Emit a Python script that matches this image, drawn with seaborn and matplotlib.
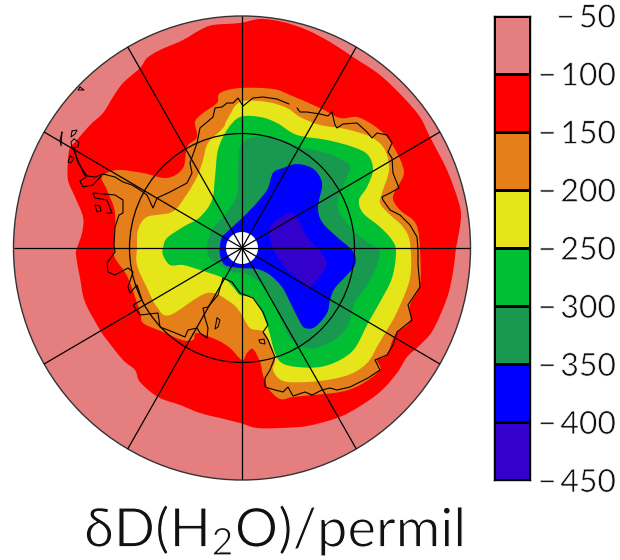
import numpy as np
import matplotlib
matplotlib.use("Agg")
import matplotlib.pyplot as plt
import matplotlib.patheffects as pe
from matplotlib.colors import ListedColormap
from matplotlib.patches import Ellipse, PathPatch
from matplotlib.path import Path
import seaborn as sns

# colour bar
levels = [-50, -100, -150, -200, -250, -300, -350, -400, -450]
level_labels = ["\u2212\u200950", "\u2212\u2009100", "\u2212\u2009150", "\u2212\u2009200", "\u2212\u2009250", "\u2212\u2009300", "\u2212\u2009350", "\u2212\u2009400", "\u2212\u2009450"]
band_mid = [-75, -125, -175, -225, -275, -325, -375, -425]
band_colors = ["#e57f7f", "#ff0000", "#e57f1a", "#e5e519", "#00bf33", "#199950", "#0000ff", "#3300cc"]

# contour traces (grid units, pole at 242,248)
red_x = [240, 260, 283, 307, 330, 353, 380, 403, 420, 430, 447, 458, 461, 457, 456, 453, 447, 433, 420, 407, 397, 380, 357, 337, 307, 280, 257, 240, 220, 200, 180, 158, 140, 135, 123, 107, 100, 85, 80, 76, 77, 82, 83, 75, 68, 68, 70, 77, 90, 103, 113, 123, 140, 147, 160, 183, 200, 213]
red_y = [23, 19, 22, 30, 42, 57, 75, 97, 117, 137, 170, 200, 217, 243, 248, 272, 298, 330, 345, 357, 373, 392, 408, 418, 426, 428, 428, 423, 418, 413, 405, 397, 382, 370, 360, 340, 330, 302, 278, 255, 248, 233, 217, 197, 180, 160, 148, 140, 125, 113, 97, 83, 68, 58, 50, 40, 30, 25]
orange_x = [240, 273, 290, 320, 340, 357, 373, 387, 397, 403, 403, 393, 400, 413, 418, 420, 420, 410, 410, 395, 387, 377, 380, 360, 340, 313, 293, 280, 268, 263, 260, 253, 247, 242, 230, 217, 197, 193, 182, 163, 143, 140, 128, 115, 114, 115, 107, 102, 117, 143, 167, 183, 187, 197, 195, 203, 217, 220]
orange_y = [88, 89, 95, 108, 118, 117, 125, 137, 153, 167, 177, 197, 210, 220, 230, 250, 285, 305, 322, 335, 355, 360, 370, 385, 392, 395, 397, 399, 388, 375, 362, 349, 353, 360, 348, 340, 333, 340, 340, 332, 323, 312, 278, 258, 248, 213, 190, 177, 170, 173, 178, 168, 147, 137, 122, 113, 103, 93]
yellow_x = [240, 267, 287, 300, 320, 340, 357, 373, 385, 389, 382, 380, 388, 403, 410, 410, 397, 387, 378, 368, 353, 333, 307, 283, 273, 275, 265, 250, 240, 230, 207, 170, 157, 147, 137, 137, 138, 147, 172, 185, 197, 203, 208, 223, 227]
yellow_y = [102, 102, 108, 117, 125, 128, 132, 138, 150, 170, 193, 203, 213, 227, 243, 278, 312, 330, 345, 362, 373, 379, 382, 381, 370, 358, 333, 328, 312, 302, 293, 315, 307, 288, 265, 248, 230, 217, 212, 197, 177, 160, 143, 128, 120]
green_x = [240, 260, 277, 297, 327, 353, 368, 373, 367, 359, 363, 380, 392, 396, 392, 380, 368, 355, 340, 320, 297, 282, 275, 268, 260, 252, 240, 233, 223, 200, 183, 170, 163, 163, 167, 183, 200, 212, 215, 218, 227]
green_y = [117, 117, 123, 135, 140, 147, 155, 170, 187, 200, 213, 227, 240, 252, 278, 302, 323, 348, 360, 367, 367, 363, 353, 328, 308, 297, 295, 287, 278, 270, 265, 265, 255, 248, 238, 227, 217, 200, 177, 150, 130]
dgreen_x = [240, 250, 263, 283, 300, 323, 343, 350, 347, 338, 340, 353, 367, 379, 377, 367, 355, 348, 337, 317, 303, 290, 282, 270, 257, 243, 233, 220, 210, 207, 213, 225, 237, 238]
dgreen_y = [147, 138, 137, 140, 147, 152, 160, 167, 177, 200, 213, 230, 242, 250, 265, 285, 302, 325, 338, 348, 347, 338, 322, 295, 280, 273, 272, 265, 258, 245, 228, 215, 195, 170]
blue_x = [240, 253, 267, 273, 283, 297, 312, 320, 322, 318, 322, 337, 350, 355, 355, 347, 335, 330, 327, 315, 305, 300, 290, 282, 270, 257, 240, 225, 220, 220, 222, 227]
blue_y = [220, 207, 190, 173, 168, 164, 168, 177, 187, 207, 222, 237, 248, 255, 265, 275, 288, 300, 313, 327, 328, 322, 302, 287, 275, 269, 268, 265, 255, 245, 237, 232]
purple_x = [270, 290, 300, 307, 317, 327, 318, 308, 297, 283, 273]
purple_y = [227, 213, 223, 237, 248, 263, 278, 288, 278, 265, 248]

# coast
coast_a_x = [74, 78, 83, 87, 95, 103, 115, 123, 132, 140, 147, 153, 157, 170, 187, 192, 190, 197, 200, 213, 215, 222, 227, 233, 238, 243, 253, 263, 277, 289]
coast_a_y = [148, 163, 170, 176, 177, 174, 177, 182, 185, 190, 195, 208, 198, 192, 183, 173, 163, 143, 128, 117, 108, 107, 103, 103, 98, 106, 98, 97, 99, 104]
coast_b_x = [297, 300, 307, 320, 328, 332, 335, 337, 343, 357, 367, 372, 377, 387, 392, 388, 392, 393, 399, 390, 382, 383, 390, 400, 410, 417, 418, 418, 420, 408, 412, 397, 393, 387, 375, 380, 368, 350, 337, 330, 322, 312, 305, 293, 288, 283, 275, 265, 265, 270, 275, 268, 263, 268, 263, 253, 240, 232, 223, 218, 208, 203, 205, 208, 207, 200, 197, 188, 185, 173, 160, 158, 140, 133, 142, 137, 130, 128, 133, 128, 115, 108, 107, 115, 114, 115, 119, 123, 123, 115, 93, 95, 107, 112, 107]
coast_b_y = [108, 112, 112, 114, 116, 112, 125, 128, 124, 123, 132, 138, 133, 135, 143, 152, 158, 173, 188, 193, 197, 200, 210, 215, 225, 237, 250, 265, 287, 305, 320, 332, 345, 355, 360, 370, 378, 387, 390, 388, 390, 395, 392, 396, 387, 392, 390, 387, 378, 370, 357, 340, 332, 325, 312, 298, 293, 282, 278, 295, 307, 308, 318, 328, 338, 333, 328, 330, 337, 332, 327, 313, 315, 305, 300, 285, 293, 287, 272, 268, 275, 272, 263, 252, 245, 227, 215, 213, 200, 195, 193, 198, 200, 213, 213]
coast_c_x = [74, 76, 80, 83, 86, 80, 83, 93, 101]
coast_c_y = [150, 156, 165, 172, 177, 181, 187, 185, 176]
isle_x = [[80, 84, 78, 80], [95, 100, 101, 97, 95], [217, 220, 218, 215, 217], [259, 264, 265, 260, 259], [62, 60, 61, 62], [72, 77, 75, 71, 72], [70, 74, 71, 68, 70], [74, 79, 78, 72, 71, 74]]
isle_y = [[87, 90, 90, 87], [205, 206, 211, 212, 205], [318, 320, 327, 329, 318], [340, 339, 344, 343, 340], [132, 140, 146, 132], [131, 130, 134, 137, 131], [156, 158, 163, 162, 156], [139, 142, 147, 148, 142, 139]]
meridians = [0, 30, 60, 90, 120, 150]


def smooth_band(xs, ys):
    # closed bezier through the traced points, contours in the figure are rounded
    p = np.column_stack([xs, ys]).astype(float)
    n = len(p)
    verts = [p[0]]
    codes = [Path.MOVETO]
    for i in range(n):
        a, b, c, d = p[i - 1], p[i], p[(i + 1) % n], p[(i + 2) % n]
        verts += [b + (c - a) / 6, c - (d - b) / 6, c]
        codes += [Path.CURVE4] * 3
    return Path(verts, codes)


sns.set_theme(style="white")
plt.rcParams["font.family"] = ["Lato", "DejaVu Sans"]
plt.rcParams["mathtext.default"] = "regular"

fig = plt.figure(figsize=(6.2, 5.6), dpi=100)
W, H = 620, 560
ax = fig.add_axes([13.5 / W, (H - 480) / H, 457 / W, 464 / H])
ax.set_xlim(13.5, 470.5)
ax.set_ylim(480, 16)
ax.axis("off")

pole = (242, 248)
ax.add_patch(Ellipse(pole, 457, 464, fc=band_colors[0], ec="none"))
for xs, ys, c in [(red_x, red_y, band_colors[1]), (orange_x, orange_y, band_colors[2]),
                  (yellow_x, yellow_y, band_colors[3]), (green_x, green_y, band_colors[4]),
                  (dgreen_x, dgreen_y, band_colors[5]), (blue_x, blue_y, band_colors[6]),
                  (purple_x, purple_y, band_colors[7])]:
    ax.add_patch(PathPatch(smooth_band(xs, ys), fc=c, ec="none", lw=0))
ax.add_patch(Ellipse(pole, 32, 32, fc="white", ec="none"))

ax.plot(coast_a_x, coast_a_y, color="black", lw=0.8)
ax.plot(coast_b_x, coast_b_y, color="black", lw=0.8)
ax.plot(coast_c_x, coast_c_y, color="black", lw=0.8)
for xs, ys in zip(isle_x, isle_y):
    ax.plot(xs, ys, color="black", lw=0.7)

for m in meridians:
    a = np.radians(m)
    ax.plot([pole[0] - 228.5 * np.sin(a), pole[0] + 228.5 * np.sin(a)],
            [pole[1] - 232 * np.cos(a), pole[1] + 232 * np.cos(a)],
            color="black", lw=0.9, solid_capstyle="butt")
ax.add_patch(Ellipse(pole, 225, 229, fc="none", ec="black", lw=0.9))
ax.add_patch(Ellipse(pole, 457, 464, fc="none", ec="#333333", lw=1.0, clip_on=False))

# colour bar, one heatmap column
cax = fig.add_axes([493.5 / W, (H - 480) / H, 36.5 / W, 464.5 / H])
bar = np.array(band_mid).reshape(-1, 1)
sns.heatmap(bar, ax=cax, cmap=ListedColormap(band_colors[::-1]), cbar=False,
            linewidths=1, linecolor="black", xticklabels=False)
for s in cax.spines.values():
    s.set_visible(True)
    s.set_color("black")
    s.set_linewidth(1)
cax.yaxis.tick_right()
cax.set_yticks(np.arange(len(levels)))
cax.set_yticklabels(level_labels, rotation=0, fontsize=23, color="#111111", ha="right")
cax.tick_params(axis="y", length=0, pad=62)
# the reference lettering is a hairline face, shave the glyphs down with a white edge
for t in cax.get_yticklabels():
    t.set_path_effects([pe.Stroke(linewidth=0.5, foreground="white")])

fig.text(274 / W, (H - 547) / H, r"$\delta$D(H$_2$O)/permil", fontsize=39, ha="center",
         va="baseline", color="#111111", path_effects=[pe.Stroke(linewidth=0.9, foreground="white")])

fig.savefig("out.png", dpi=100)
